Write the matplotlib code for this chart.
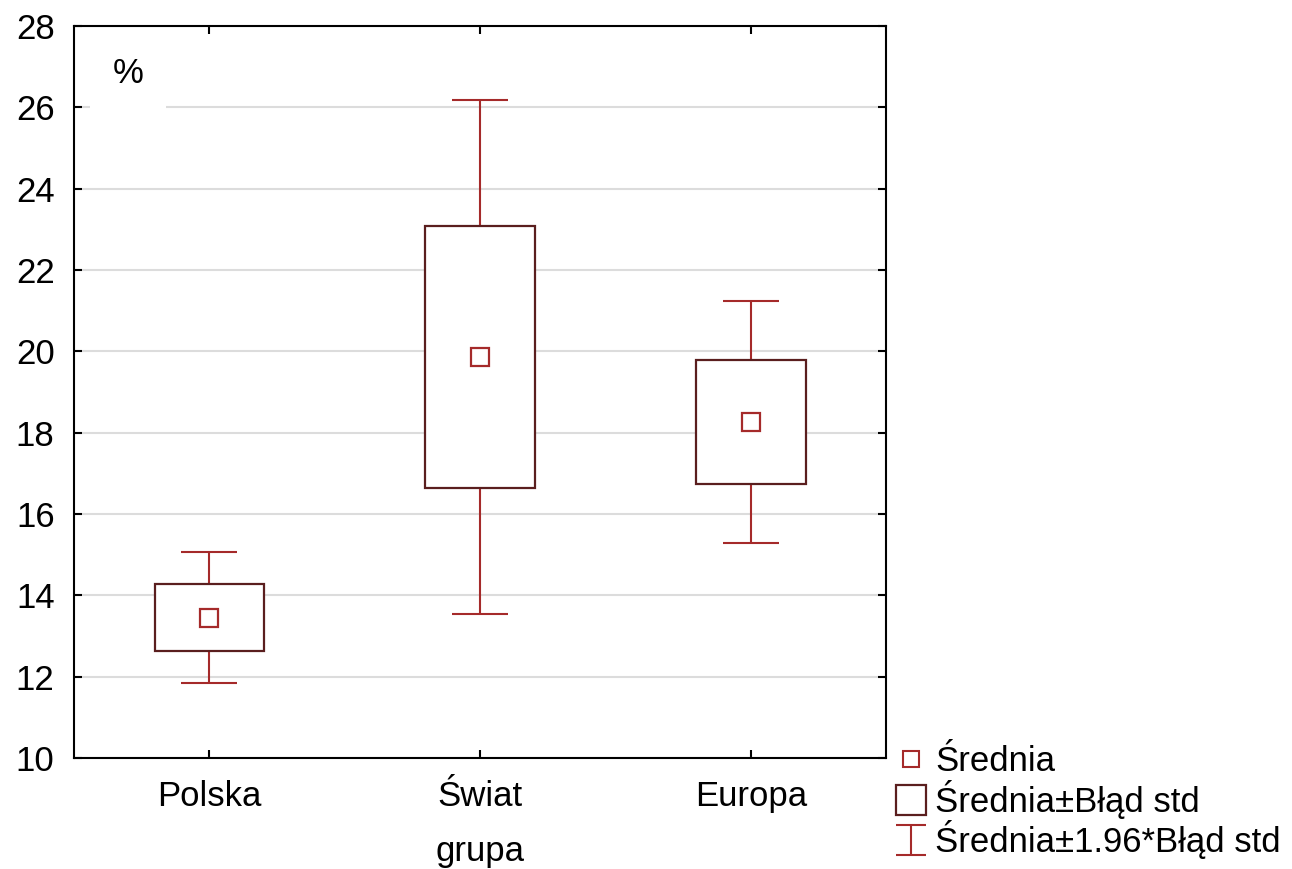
import numpy as np
import matplotlib
matplotlib.use("Agg")
import matplotlib.pyplot as plt
from matplotlib.lines import Line2D
from matplotlib.path import Path

plt.rcParams['font.family'] = ['Liberation Sans', 'DejaVu Sans']

groups = ['Polska', 'Świat', 'Europa']
means = [13.45, 19.86, 18.27]
std_err = [0.82, 3.22, 1.52]

red = '#a52a2a'
dark = '#5a1e1e'

x = np.arange(1, len(groups) + 1)
m = np.array(means)
se = np.array(std_err)

fig = plt.figure(figsize=(12.92, 8.69), dpi=100)
ax = fig.add_axes([0.0573, 0.1277, 0.6285, 0.8424])

# whiskers: mean +/- 1.96*SE
ax.errorbar(x, m, yerr=1.96 * se, fmt='none', ecolor=red, elinewidth=1.5,
            capsize=20, capthick=1.5, zorder=2)
# boxes: mean +/- SE
ax.bar(x, 2 * se, bottom=m - se, width=0.405, facecolor='white',
       edgecolor=dark, linewidth=1.6, zorder=3)
# means
ax.plot(x, m, 's', ms=12.5, mfc='white', mec=red, mew=1.6, zorder=4)

ax.set_xlim(0.5, 3.5)
ax.set_ylim(10, 28)
ax.set_yticks(np.arange(10, 29, 2))
ax.set_xticks(x)
ax.set_xticklabels(groups)
ax.yaxis.grid(True, color='#dcdcdc', linewidth=1.5, zorder=0)
ax.set_axisbelow(True)
ax.tick_params(direction='in', length=6, width=1.5, labelsize=25,
               top=True, right=True)
ax.tick_params(axis='y', pad=14)
ax.tick_params(axis='x', pad=16)
for s in ax.spines.values():
    s.set_linewidth(1.5)

ax.set_xlabel('grupa', fontsize=25, labelpad=16)

ax.text(0.067, 0.935, '%', transform=ax.transAxes, fontsize=25,
        ha='center', va='center', zorder=5,
        bbox=dict(boxstyle='square,pad=0.65', fc='white', ec='none'))

# I-shaped marker for the 1.96*SE legend entry
ibar = Path([(-1, -1), (1, -1), (0, -1), (0, 1), (-1, 1), (1, 1)],
            [Path.MOVETO, Path.LINETO, Path.MOVETO, Path.LINETO,
             Path.MOVETO, Path.LINETO])
handles = [
    Line2D([], [], ls='none', marker='s', ms=11, mfc='white', mec=red, mew=1.5),
    Line2D([], [], ls='none', marker='s', ms=22, mfc='white', mec=dark, mew=1.6),
    Line2D([], [], ls='none', marker=ibar, ms=22, mec=red, mew=1.5),
]
labels = ['Średnia', 'Średnia±Błąd std', 'Średnia±1.96*Błąd std']
fig.legend(handles, labels, loc='lower left', bbox_to_anchor=(0.681, -0.009),
           frameon=False, fontsize=25, handlelength=0.8, handletextpad=0.3,
           labelspacing=0.05, borderpad=0.0)

fig.savefig('out.png', dpi=100)
